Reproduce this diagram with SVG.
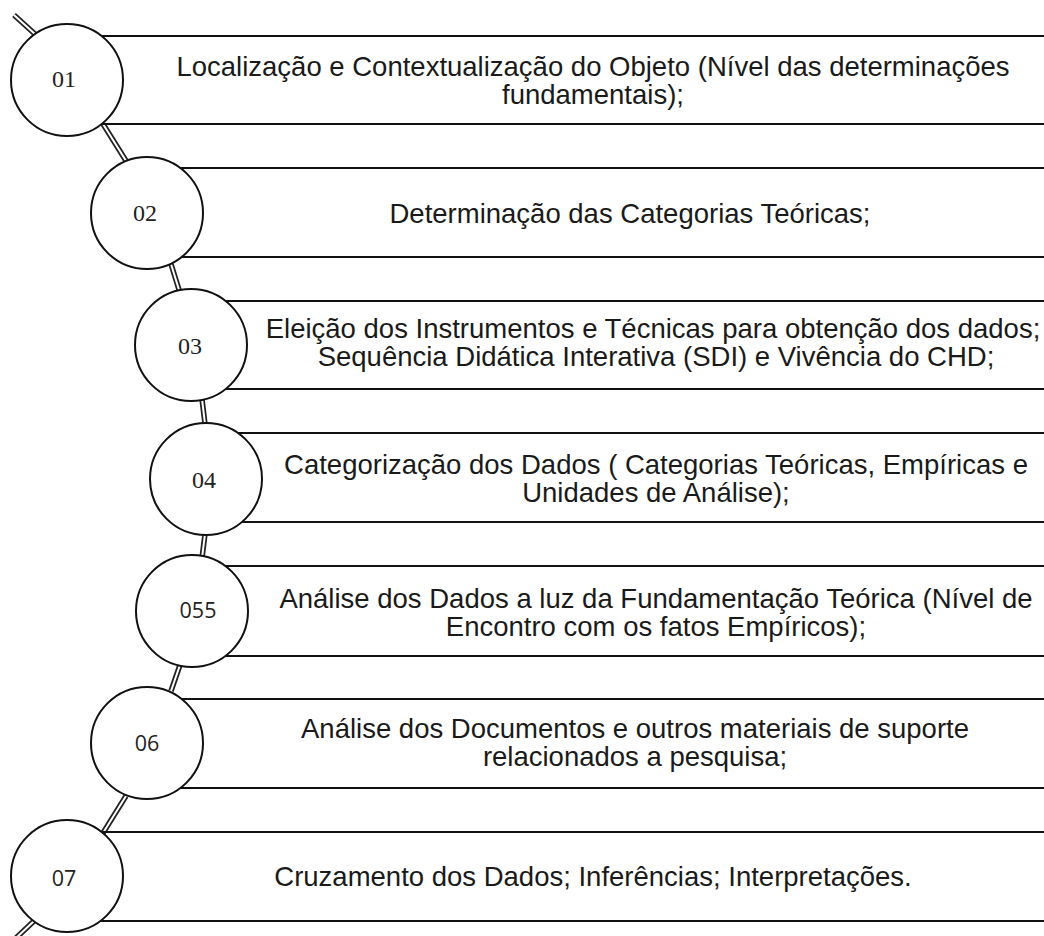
<svg xmlns="http://www.w3.org/2000/svg" width="1044" height="936" viewBox="0 0 1044 936">
<style>
.bg{fill:#ffffff}
.rule{stroke:#111;stroke-width:2.2;fill:none}
.ring{fill:#ffffff;stroke:#111;stroke-width:2}
.txt{font-family:"Liberation Sans",Arial,sans-serif;font-size:27.5px;fill:#1a1a1a;text-anchor:middle}
.num{font-family:"Liberation Serif","Times New Roman",serif;font-size:24px;fill:#222;text-anchor:middle}
.num2{font-family:"Open Sans","Liberation Sans",sans-serif;font-size:21.5px;fill:#222;text-anchor:middle}
.wire-o{stroke:#222;stroke-width:5.5;fill:none;stroke-linecap:butt}
.wire-i{stroke:#fff;stroke-width:2;fill:none;stroke-linecap:butt}
</style>
<rect class="bg" x="0" y="0" width="1044" height="936"/>
<g id="connectors">
<path class="wire-o" d="M14,15 L36,35 M103,124 L128,164 M171,264 L180,293 M202,399 L205,424 M205,534 L202,558 M180,665 L171,691 M126,796 L103,833 M34,921 L16,938"/>
<path class="wire-i" d="M14,15 L36,35 M103,124 L128,164 M171,264 L180,293 M202,399 L205,424 M205,534 L202,558 M180,665 L171,691 M126,796 L103,833 M34,921 L16,938"/>
</g>
<g id="step01">
<line class="rule" x1="67" y1="36" x2="1044" y2="36"/>
<line class="rule" x1="67" y1="124" x2="1044" y2="124"/>
<circle class="ring" cx="67" cy="80" r="56"/>
<text class="num" x="64" y="87">01</text>
<text class="txt" x="593" y="76">Localização e Contextualização do Objeto (Nível das determinações</text>
<text class="txt" x="593" y="104">fundamentais);</text>
</g>
<g id="step02">
<line class="rule" x1="147" y1="168" x2="1044" y2="168"/>
<line class="rule" x1="147" y1="257" x2="1044" y2="257"/>
<circle class="ring" cx="147" cy="213" r="56"/>
<text class="num" x="145" y="221">02</text>
<text class="txt" x="630" y="223">Determinação das Categorias Teóricas;</text>
</g>
<g id="step03">
<line class="rule" x1="191" y1="301" x2="1044" y2="301"/>
<line class="rule" x1="191" y1="389" x2="1044" y2="389"/>
<circle class="ring" cx="191" cy="345" r="56"/>
<text class="num" x="190" y="354">03</text>
<text class="txt" x="653" y="338">Eleição dos Instrumentos e Técnicas para obtenção dos dados;</text>
<text class="txt" x="656" y="366">Sequência Didática Interativa (SDI) e Vivência do CHD;</text>
</g>
<g id="step04">
<line class="rule" x1="206" y1="433" x2="1044" y2="433"/>
<line class="rule" x1="206" y1="522" x2="1044" y2="522"/>
<circle class="ring" cx="206" cy="479" r="56"/>
<text class="num" x="204" y="488">04</text>
<text class="txt" x="656" y="474">Categorização dos Dados ( Categorias Teóricas, Empíricas e</text>
<text class="txt" x="656" y="502">Unidades de Análise);</text>
</g>
<g id="step05">
<line class="rule" x1="192" y1="566" x2="1044" y2="566"/>
<line class="rule" x1="192" y1="656" x2="1044" y2="656"/>
<circle class="ring" cx="192" cy="611" r="56"/>
<text class="num2" x="198" y="618">055</text>
<text class="txt" x="656" y="608">Análise dos Dados a luz da Fundamentação Teórica (Nível de</text>
<text class="txt" x="656" y="636">Encontro com os fatos Empíricos);</text>
</g>
<g id="step06">
<line class="rule" x1="147" y1="699" x2="1044" y2="699"/>
<line class="rule" x1="147" y1="788" x2="1044" y2="788"/>
<circle class="ring" cx="147" cy="743" r="56"/>
<text class="num2" x="147" y="751">06</text>
<text class="txt" x="635" y="738">Análise dos Documentos e outros materiais de suporte</text>
<text class="txt" x="635" y="766">relacionados a pesquisa;</text>
</g>
<g id="step07">
<line class="rule" x1="67" y1="832" x2="1044" y2="832"/>
<line class="rule" x1="67" y1="921" x2="1044" y2="921"/>
<circle class="ring" cx="67" cy="876" r="56"/>
<text class="num2" x="64" y="886">07</text>
<text class="txt" x="593" y="886">Cruzamento dos Dados; Inferências; Interpretações.</text>
</g>
</svg>
